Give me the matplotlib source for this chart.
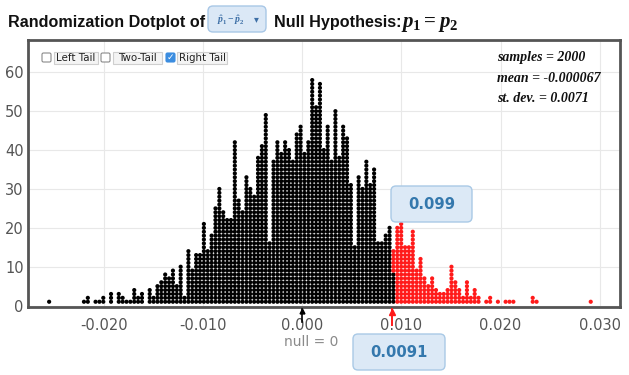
import matplotlib
matplotlib.use('Agg')
import matplotlib.pyplot as plt
import matplotlib.transforms as mtransforms
from matplotlib.patches import FancyBboxPatch

plt.rcParams['mathtext.fontset'] = 'custom'
plt.rcParams['mathtext.it'] = 'Liberation Serif:italic:bold'
plt.rcParams['mathtext.rm'] = 'Liberation Serif:bold'

# randomization distribution: number of stacked dots in each bin, left to right
bin_left = -0.02551
bin_width = 0.00039
counts = [1, 0, 0, 0, 0, 0, 0, 0, 0, 1, 2, 0, 1, 1, 2, 0, 3, 0, 3, 2,
          1, 1, 4, 2, 3, 0, 4, 2, 5, 6, 8, 7, 9, 5, 10, 2, 14, 9, 13, 13,
          21, 14, 18, 25, 30, 24, 22, 22, 42, 27, 24, 33, 30, 28, 38, 41, 49, 16, 37, 42,
          39, 42, 40, 37, 44, 46, 39, 42, 58, 51, 57, 40, 46, 37, 50, 38, 46, 43, 31, 15,
          33, 30, 37, 31, 35, 16, 16, 18, 20, 14, 20, 21, 15, 15, 19, 9, 12, 7, 5, 7,
          4, 3, 3, 4, 10, 6, 4, 2, 6, 2, 4, 2, 0, 1, 2, 0, 1, 0, 1, 1,
          1, 0, 0, 0, 0, 2, 1, 0, 0, 0, 0, 0, 0, 0, 0, 0, 0, 0, 0, 0, 1]
cutoff = 0.0091
split_black = 8      # dots below the cutoff in the bin that straddles it
null_value = 0.0

x_ticks = [-0.020, -0.010, 0.000, 0.010, 0.020, 0.030]
x_tick_labels = ['-0.020', '-0.010', '0.000', '0.010', '0.020', '0.030']
y_ticks = [0, 10, 20, 30, 40, 50, 60]
stats = ['samples = 2000', 'mean = -0.000067', 'st. dev. = 0.0071']
tail_options = ['Left Tail', 'Two-Tail', 'Right Tail']
tail_checked = [False, False, True]
p_value = '0.099'
cutoff_label = '0.0091'

W, H = 629, 375
fig = plt.figure(figsize=(W / 100, H / 100), dpi=100)

ax = fig.add_axes([28 / W, 1 - 307 / H, (620 - 28) / W, (307 - 40) / H])
ax.set_xlim(-0.02764, 0.03204)
ax.set_ylim(-0.35, 68.3)

xs, ys, cs = [], [], []
for i, n in enumerate(counts):
    c = bin_left + i * bin_width
    for k in range(1, n + 1):
        if c - bin_width / 2 >= cutoff:
            red = True
        elif c + bin_width / 2 <= cutoff:
            red = False
        else:
            red = k > split_black
        xs.append(c)
        ys.append(k)
        cs.append('#ff1a1a' if red else '#000000')
ax.scatter(xs, ys, s=9, c=cs, linewidths=0, zorder=3)

ax.set_xticks(x_ticks)
ax.set_xticklabels(x_tick_labels)
ax.set_yticks(y_ticks)
ax.tick_params(axis='both', length=0, labelsize=10.5, colors='#555555')
ax.tick_params(axis='x', pad=8)
ax.tick_params(axis='y', pad=3)
ax.grid(True, color='#e8e8e8', lw=0.8)
ax.set_axisbelow(True)
for s in ax.spines.values():
    s.set_color('#555555')
    s.set_linewidth(2)

# markers for the null value and the observed statistic under the axis
tr = mtransforms.blended_transform_factory(ax.transData, ax.transAxes)
ax.plot([null_value, null_value], [-0.008, -0.058], color='black', lw=1.2,
        transform=tr, clip_on=False, zorder=5)
ax.plot([null_value], [-0.014], marker='^', ms=3.5, color='black',
        transform=tr, clip_on=False, zorder=5)
ax.plot([cutoff, cutoff], [-0.008, -0.068], color='#ff1a1a', lw=1.4,
        transform=tr, clip_on=False, zorder=5)
ax.plot([cutoff], [-0.02], marker='^', ms=5, color='#ff1a1a',
        transform=tr, clip_on=False, zorder=5)

# overlay in pixel coordinates for the page widgets
ov = fig.add_axes([0, 0, 1, 1])
ov.set_xlim(0, W)
ov.set_ylim(H, 0)
ov.axis('off')

title_font = 'Liberation Sans'
ov.text(8, 27, 'Randomization Dotplot of', fontsize=11.6, fontweight='bold',
        family=title_font, color='#111111', va='baseline')
ov.add_patch(FancyBboxPatch((208, 6), 58, 26, boxstyle='round,pad=0,rounding_size=5',
                            fc='#dbe8f6', ec='#a8c7e6', lw=1))
ov.text(231, 20, r'$\hat{p}_1 - \hat{p}_2$', fontsize=7, color='#3d6fa6',
        ha='center', va='center')
ov.text(256, 19.5, '\u25be', fontsize=7, color='#3d6fa6', ha='center', va='center')
ov.text(274, 27, 'Null Hypothesis:', fontsize=11.6, fontweight='bold',
        family=title_font, color='#111111', va='baseline')
ov.text(401, 27, r'$p_1 = p_2$', fontsize=15, color='#111111', va='baseline')

# tail check boxes
box_x = [42, 101, 166]
label_x = [54, 113, 177]
label_w = [44, 49, 50]
for opt, checked, bx, lx, lw in zip(tail_options, tail_checked, box_x, label_x, label_w):
    ov.add_patch(FancyBboxPatch((bx, 53), 9, 9, boxstyle='round,pad=0,rounding_size=1.5',
                                fc='#3b8de0' if checked else 'white',
                                ec='#3b8de0' if checked else '#8a8a8a', lw=0.8))
    if checked:
        ov.text(bx + 4.5, 57.8, '\u2713', fontsize=6.5, color='white',
                ha='center', va='center', fontweight='bold')
    ov.add_patch(FancyBboxPatch((lx, 51.5), lw, 12, boxstyle='square,pad=0',
                                fc='#f4f4f4', ec='#cfcfcf', lw=0.8))
    ov.text(lx + lw / 2, 57.8, opt, fontsize=7.4, color='#222222',
            ha='center', va='center')

for i, line in enumerate(stats):
    ov.text(497, 57 + 21 * i, line, fontsize=10, family='Liberation Serif',
            style='italic', fontweight='bold', color='#111111', va='center')

# p-value box and observed-statistic box
ov.add_patch(FancyBboxPatch((391, 186), 81, 36, boxstyle='round,pad=0,rounding_size=5',
                            fc='#dce9f6', ec='#a9c9e6', lw=1, zorder=6))
ov.text(431.5, 204.5, p_value, fontsize=10.6, fontweight='bold', color='#3478ad',
        ha='center', va='center', zorder=7)
ov.add_patch(FancyBboxPatch((353, 334), 92, 36, boxstyle='round,pad=0,rounding_size=5',
                            fc='#dce9f6', ec='#a9c9e6', lw=1, zorder=6))
ov.text(399, 352.5, cutoff_label, fontsize=10.6, fontweight='bold', color='#3478ad',
        ha='center', va='center', zorder=7)
ov.text(311.5, 342, 'null = 0', fontsize=10, color='#8a8a8a', ha='center', va='center')

fig.savefig('out.png', dpi=100)
